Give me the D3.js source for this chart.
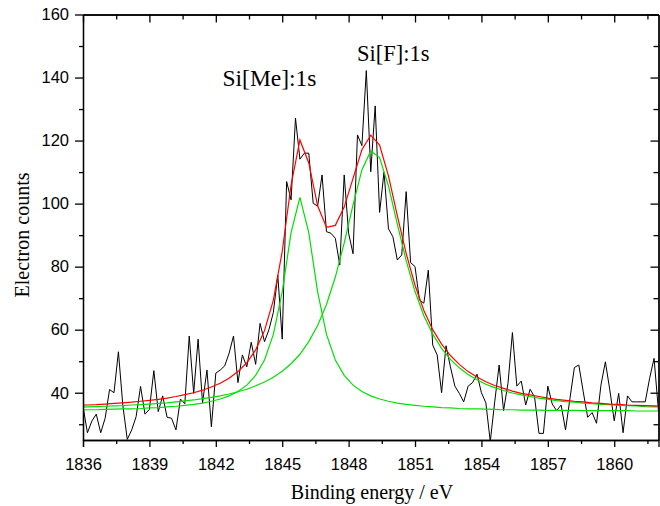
<!DOCTYPE html>
<html>
<head>
<meta charset="utf-8">
<script src="https://cdn.jsdelivr.net/npm/d3@7/dist/d3.min.js"></script>
<style>
	body { margin: 0; background: #fff; }
	.tick text { font-family: "Liberation Sans", Arial, sans-serif; font-size: 16.5px; fill: #000; }
	.axis path, .axis line { stroke: #000; stroke-width: 1.3; }
	.title { font-family: "Liberation Serif", "Times New Roman", serif; fill: #000; }
</style>
</head>
<body>
<svg id="chart" width="660" height="506"></svg>
<script>
// measured spectrum (binding energy / counts)
var energy = [
	1836.0,1836.2,1836.4,1836.6,1836.8,1837.0,1837.2,1837.4,1837.6,1837.8,
	1838.0,1838.2,1838.4,1838.6,1838.8,1839.0,1839.2,1839.4,1839.6,1839.8,
	1840.0,1840.2,1840.4,1840.6,1840.8,1841.0,1841.2,1841.4,1841.6,1841.8,
	1842.0,1842.2,1842.4,1842.6,1842.8,1843.0,1843.2,1843.4,1843.6,1843.8,
	1844.0,1844.2,1844.4,1844.6,1844.8,1845.0,1845.2,1845.4,1845.6,1845.8,
	1846.0,1846.2,1846.4,1846.6,1846.8,1847.0,1847.2,1847.4,1847.6,1847.8,
	1848.0,1848.2,1848.4,1848.6,1848.8,1849.0,1849.2,1849.4,1849.6,1849.8,
	1850.0,1850.2,1850.4,1850.6,1850.8,1851.0,1851.2,1851.4,1851.6,1851.8,
	1852.0,1852.2,1852.4,1852.6,1852.8,1853.0,1853.2,1853.4,1853.6,1853.8,
	1854.0,1854.2,1854.4,1854.6,1854.8,1855.0,1855.2,1855.4,1855.6,1855.8,
	1856.0,1856.2,1856.4,1856.6,1856.8,1857.0,1857.2,1857.4,1857.6,1857.8,
	1858.0,1858.2,1858.4,1858.6,1858.8,1859.0,1859.2,1859.4,1859.6,1859.8,
	1860.0,1860.2,1860.4,1860.6,1860.8,1861.0,1861.2,1861.4,1861.6,1861.8,
	1862.0];
var counts = [
	35.6, 27.3, 31, 33.2, 27.3, 31.9, 41, 40, 53, 36,
	25.2, 28.2, 32.4, 42, 33.2, 34.7, 47, 34, 39, 32.2,
	31.9, 28.2, 38, 36.5, 58, 39.8, 57, 36.8, 47.2, 29.2,
	46.2, 47.2, 48.5, 52.5, 58, 43.2, 52, 48.2, 56, 49,
	62, 56.2, 60, 65.5, 77.3, 57, 107, 101.2, 127.1, 114.1,
	116, 116, 100.1, 99.2, 109.1, 91.1, 90.6, 89, 80.5, 109.1,
	90.6, 84.1, 121.8, 118.4, 142.2, 110.1, 131, 97.2, 110, 92,
	89.5, 82.1, 83.7, 103.8, 81.3, 80, 69.4, 68.4, 78.9, 55.1,
	52, 40, 54.9, 48.2, 42.1, 39.8, 37.1, 42.1, 43.2, 45.9,
	40, 36.8, 24.5, 37.1, 48.8, 34.3, 43, 59.1, 42.1, 43.7,
	36.1, 41.1, 38.7, 27.1, 27.1, 42.1, 36.4, 34.3, 36.1, 28.2,
	38.2, 48, 48.8, 40.3, 32.2, 33.7, 30.3, 42.4, 49.8, 40.9,
	31.1, 39.8, 27.3, 39, 37.1, 37.1, 37.1, 37.1, 44.6, 50.9,
	34];

// fitted curves
var fitEnergy = [
	1835.8,1836.2,1836.6,1837.0,1837.4,1837.8,1838.2,1838.6,1839.0,1839.4,
	1839.8,1840.2,1840.6,1841.0,1841.4,1841.8,1842.2,1842.6,1843.0,1843.4,
	1843.8,1844.2,1844.6,1845.0,1845.4,1845.8,1846.2,1846.6,1847.0,1847.4,
	1847.8,1848.2,1848.6,1849.0,1849.4,1849.8,1850.2,1850.6,1851.0,1851.4,
	1851.8,1852.2,1852.6,1853.0,1853.4,1853.8,1854.2,1854.6,1855.0,1855.4,
	1855.8,1856.2,1856.6,1857.0,1857.4,1857.8,1858.2,1858.6,1859.0,1859.4,
	1859.8,1860.2,1860.6,1861.0,1861.4,1861.8,1862.2];
var fitMe = [
	34.5, 34.6, 34.6, 34.7, 34.8, 34.9, 34.9, 35.0, 35.2, 35.3,
	35.5, 35.7, 36.0, 36.3, 36.7, 37.3, 38.0, 39.0, 40.4, 42.4,
	45.5, 50.4, 58.5, 72.0, 90.8, 102.0, 90.8, 72.0, 58.5, 50.4,
	45.5, 42.4, 40.4, 39.0, 38.0, 37.3, 36.7, 36.3, 36.0, 35.7,
	35.5, 35.3, 35.2, 35.0, 34.9, 34.9, 34.8, 34.7, 34.6, 34.6,
	34.5, 34.5, 34.5, 34.4, 34.4, 34.4, 34.4, 34.3, 34.3, 34.3,
	34.3, 34.3, 34.3, 34.2, 34.2, 34.2, 34.2];
var fitF = [
	35.4, 35.5, 35.6, 35.7, 35.8, 35.9, 36.1, 36.2, 36.4, 36.6,
	36.8, 37.1, 37.4, 37.7, 38.1, 38.5, 39.0, 39.6, 40.3, 41.1,
	42.2, 43.4, 44.9, 46.8, 49.2, 52.2, 56.2, 61.3, 68.0, 76.7,
	87.5, 99.6, 110.7, 116.7, 114.6, 105.6, 93.5, 81.9, 72.1, 64.4,
	58.6, 54.1, 50.6, 47.9, 45.8, 44.1, 42.7, 41.6, 40.7, 39.9,
	39.3, 38.8, 38.3, 37.9, 37.5, 37.2, 37.0, 36.7, 36.5, 36.3,
	36.2, 36.0, 35.9, 35.8, 35.6, 35.5, 35.5];
var fitSum = [
	36.0, 36.1, 36.2, 36.4, 36.6, 36.8, 37.0, 37.3, 37.6, 37.9,
	38.3, 38.8, 39.4, 40.0, 40.8, 41.8, 43.0, 44.6, 46.7, 49.5,
	53.6, 59.7, 69.4, 84.8, 105.9, 120.2, 112.9, 99.3, 92.5, 93.1,
	98.9, 108.0, 117.1, 121.7, 118.6, 108.8, 96.2, 84.2, 74.1, 66.1,
	60.0, 55.4, 51.8, 49.0, 46.7, 45.0, 43.5, 42.3, 41.4, 40.5,
	39.8, 39.3, 38.8, 38.3, 37.9, 37.6, 37.3, 37.1, 36.8, 36.6,
	36.4, 36.3, 36.1, 36.0, 35.9, 35.8, 35.7];

// ticks
var xTicks = [1836, 1839, 1842, 1845, 1848, 1851, 1854, 1857, 1860];
var xMinor = [1837.5, 1840.5, 1843.5, 1846.5, 1849.5, 1852.5, 1855.5, 1858.5, 1861.5];
var yTicks = [40, 60, 80, 100, 120, 140, 160];
var yMinor = [30, 50, 70, 90, 110, 130, 150];

var plotL = 83, plotR = 658.5, plotT = 14.5, plotB = 440;
var svg = d3.select("#chart");

var x = d3.scaleLinear().domain([1836, 1862]).range([plotL, plotR]);
var y = d3.scaleLinear().domain([25, 160]).range([plotB, plotT]);

svg.append("defs").append("clipPath").attr("id", "plot")
	.append("rect").attr("x", plotL).attr("y", plotT)
	.attr("width", plotR - plotL).attr("height", plotB - plotT);

var line = d3.line().x(function(d) { return x(d[0]); }).y(function(d) { return y(d[1]); });
var g = svg.append("g").attr("clip-path", "url(#plot)");

g.append("path").datum(d3.zip(energy, counts))
	.attr("d", line).attr("fill", "none").attr("stroke", "#000").attr("stroke-width", 1);
[fitMe, fitF].forEach(function(arr) {
	g.append("path").datum(d3.zip(fitEnergy, arr))
		.attr("d", line).attr("fill", "none").attr("stroke", "#00e000").attr("stroke-width", 1.2);
});
g.append("path").datum(d3.zip(fitEnergy, fitSum))
	.attr("d", line).attr("fill", "none").attr("stroke", "#ff0000").attr("stroke-width", 1.2);

// axes: major + minor ticks on each side
function addAxis(axis, tx, ty) {
	svg.append("g").attr("class", "axis")
		.attr("transform", "translate(" + tx + "," + ty + ")").call(axis);
}
addAxis(d3.axisBottom(x).tickValues(xTicks).tickSize(7).tickPadding(11).tickFormat(d3.format("d")), 0, plotB);
addAxis(d3.axisBottom(x).tickValues(xMinor).tickSize(4).tickFormat("").tickSizeOuter(0), 0, plotB);
addAxis(d3.axisTop(x).tickValues(xTicks).tickSize(-8).tickFormat("").tickSizeOuter(0), 0, plotT);
addAxis(d3.axisTop(x).tickValues(xMinor).tickSize(-5).tickFormat("").tickSizeOuter(0), 0, plotT);
addAxis(d3.axisLeft(y).tickValues(yTicks).tickSize(8).tickPadding(6).tickSizeOuter(0), plotL, 0);
addAxis(d3.axisLeft(y).tickValues(yMinor).tickSize(4).tickFormat("").tickSizeOuter(0), plotL, 0);
addAxis(d3.axisRight(y).tickValues(yTicks).tickSize(-8).tickFormat("").tickSizeOuter(0), plotR, 0);
addAxis(d3.axisRight(y).tickValues(yMinor).tickSize(-5).tickFormat("").tickSizeOuter(0), plotR, 0);
svg.selectAll(".axis .domain").attr("stroke-width", 1.5);

// titles
svg.append("text").attr("class", "title")
	.attr("x", 372).attr("y", 499).attr("text-anchor", "middle")
	.style("font-size", "20px").text("Binding energy / eV");
svg.append("text").attr("class", "title")
	.attr("transform", "translate(29,235) rotate(-90)").attr("text-anchor", "middle")
	.style("font-size", "20px").text("Electron counts");

svg.append("text").attr("class", "title").attr("x", 222.5).attr("y", 86)
	.style("font-size", "23.5px").text("Si[Me]:1s");
svg.append("text").attr("class", "title").attr("x", 357).attr("y", 61)
	.style("font-size", "22.5px").text("Si[F]:1s");
</script>
</body>
</html>
